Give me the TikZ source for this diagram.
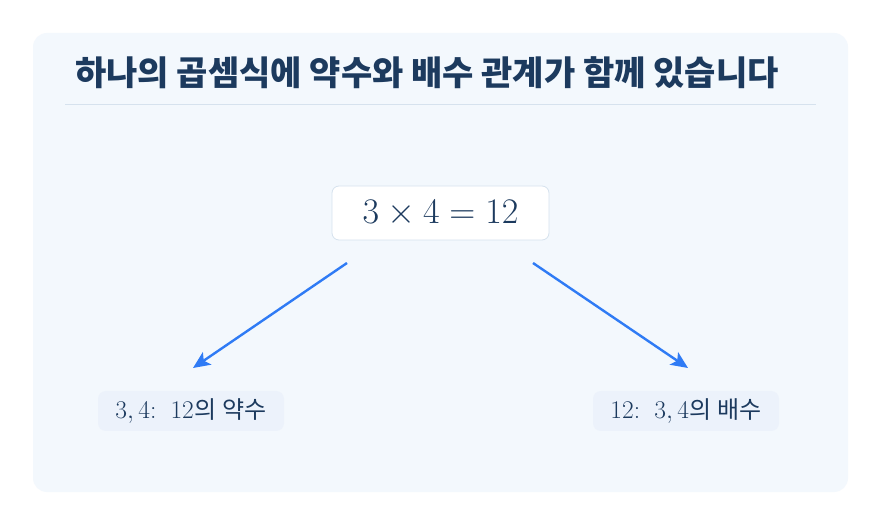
\RequirePackage{fix-cm}
\documentclass[tikz,border=0pt]{standalone}
\usepackage{fontspec}
\newfontfamily\kr{Noto Sans CJK KR}
\usetikzlibrary{arrows.meta}
\definecolor{panelbg}{HTML}{F3F8FD}
\definecolor{navy}{HTML}{1C3A5E}
\definecolor{rule}{HTML}{D6E2EE}
\definecolor{arrowblue}{HTML}{2F7BF5}
\definecolor{tagbg}{HTML}{ECF2FB}
\begin{document}
\begin{tikzpicture}[x=1pt, y=-1pt,
    eqbox/.style={draw=rule, fill=white, rounded corners=7pt, line width=0.8pt,
      minimum width=217pt, minimum height=54pt, text=navy,
      font=\fontsize{36}{40}\selectfont},
    tagbox/.style={fill=tagbg, rounded corners=8pt, minimum width=186pt,
      minimum height=40pt, text=navy, font=\fontsize{25.5}{30}\selectfont},
    link/.style={draw=arrowblue, line width=2.4pt, -{Stealth[length=17pt, width=15pt, inset=4pt]}}]
  \useasboundingbox (0,0) rectangle (881,526);
  \fill[white] (0,0) rectangle (881,526);
  \fill[panelbg, rounded corners=14pt] (33,33) rectangle (848,492);

  \node[anchor=west, text=navy, inner sep=0pt]
    (title) at (75,73) {\kr\bfseries\fontsize{34}{40}\selectfont 하나의 곱셈식에 약수와 배수 관계가 함께 있습니다};
  \draw[rule, line width=0.8pt] (65,104) -- (816,104);

  \node[eqbox] (eq) at (440.5,213) {$3\times4=12$};

  \node[tagbox] (div) at (191,411) {$3,4{:}\;\;12$\kern1pt{\kr\fontsize{24}{30}\selectfont 의 약수}};
  \node[tagbox] (mul) at (686,411) {$12{:}\;\;3,4$\kern1pt{\kr\fontsize{24}{30}\selectfont 의 배수}};

  \coordinate (divtop) at (347,263);
  \coordinate (divend) at (193,368);
  \coordinate (multop) at (533,263);
  \coordinate (mulend) at (688,368);
  \draw[link] (divtop) -- (divend);
  \draw[link] (multop) -- (mulend);
\end{tikzpicture}
\end{document}
